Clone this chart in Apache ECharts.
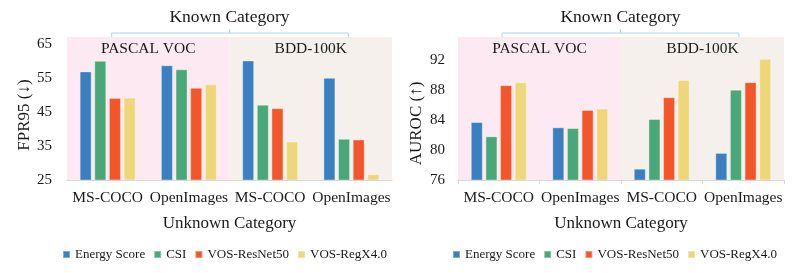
<!DOCTYPE html>
<html><head><meta charset="utf-8">
<script src="https://cdn.jsdelivr.net/npm/echarts@6/dist/echarts.min.js"></script>
<style>html,body{margin:0;padding:0;background:#fff}#c{width:797px;height:273px}</style>
</head><body><div id="c"></div>
<script>
// ---- data ----
const categories = ['MS-COCO', 'OpenImages', 'MS-COCO', 'OpenImages'];
const knownGroups = ['PASCAL VOC', 'BDD-100K'];
const seriesNames = ['Energy Score', 'CSI', 'VOS-ResNet50', 'VOS-RegX4.0'];

const fprEnergy = [56.9, 58.7, 60.1, 55.0];
const fprCSI    = [60.0, 57.5, 47.1, 37.1];
const fprResNet = [49.1, 52.1, 46.1, 36.9];
const fprRegX   = [49.2, 53.1, 36.3, 26.7];

const aucEnergy = [83.7, 83.0, 77.5, 79.6];
const aucCSI    = [81.8, 82.9, 84.1, 88.0];
const aucResNet = [88.6, 85.3, 87.0, 89.0];
const aucRegX   = [89.0, 85.5, 89.3, 92.1];

const fprAxis = {min: 25, max: 67, interval: 10};
const aucAxis = {min: 76, max: 95, interval: 4};

// ---- styles ----
const FONT = '"Liberation Serif", "Times New Roman", serif';
const colors = ['#3a80c0', '#48a878', '#f2562a', '#eed779'];
const bgColors = ['#fce9f1', '#f5f0eb'];
const TXT = '#1a1a1a';

const chart = echarts.init(document.getElementById('c'), null, {renderer: 'canvas'});

function bgSeries(idx, ax) {
  return {
    type: 'custom', xAxisIndex: idx * 2 + 1, yAxisIndex: idx, z: 1, silent: true,
    data: knownGroups.map((g, i) => [i, ax.max]),
    encode: {x: 0, y: 1},
    renderItem: function (params, api) {
      const x = api.value(0);
      const p0 = api.coord([x, ax.max]);
      const p1 = api.coord([x + 1, ax.min]);
      return {type: 'group', children: [
        {type: 'rect', shape: {x: p0[0], y: p0[1], width: p1[0] - p0[0], height: p1[1] - p0[1]},
         style: {fill: bgColors[params.dataIndex]}},
        {type: 'text', z2: 5, style: {text: knownGroups[params.dataIndex], x: (p0[0] + p1[0]) / 2, y: p0[1] + 12,
          align: 'center', verticalAlign: 'middle', fontFamily: FONT, fontSize: 15.5, fill: TXT}}
      ]};
    },
    markLine: {
      symbol: 'none', silent: true, label: {show: false},
      lineStyle: {type: [6, 3], color: '#8a8a8a', width: 1.6},
      data: [[{coord: [1, ax.max]}, {coord: [1, ax.min - (ax.max - ax.min) * 0.02]}]]
    }
  };
}

function barSeries(idx, arrs) {
  return arrs.map((arr, i) => ({
    name: seriesNames[i], type: 'bar', xAxisIndex: idx * 2, yAxisIndex: idx, z: 2,
    data: arr, barWidth: 12, barGap: '22%',
    itemStyle: {color: colors[i], borderColor: 'rgba(255,255,255,0.35)', borderWidth: 1}
  }));
}

function catAxis(grid, ticks) {
  return {
    type: 'category', gridIndex: grid, data: categories, z: 5,
    axisLine: {show: true, lineStyle: {color: '#d9d9d9', width: 1}},
    axisTick: {show: ticks, length: 4, lineStyle: {color: '#d9d9d9'}},
    axisLabel: {interval: 0, margin: 10, color: TXT, fontFamily: FONT, fontSize: 15.5},
    name: 'Unknown Category', nameLocation: 'middle', nameGap: 35,
    nameTextStyle: {color: TXT, fontFamily: FONT, fontSize: 17}
  };
}
function hiddenX(grid) {
  return {type: 'value', gridIndex: grid, min: 0, max: 2, show: false};
}
function valAxis(grid, ax, margin) {
  return {
    type: 'value', gridIndex: grid, min: ax.min, max: ax.max, interval: ax.interval,
    splitLine: {show: false}, axisLine: {show: false}, axisTick: {show: false},
    axisLabel: {showMaxLabel: false, margin: margin, color: TXT, fontFamily: FONT, fontSize: 15}
  };
}

function legend(left) {
  return {
    left: left, top: 248, padding: 0, itemWidth: 7, itemHeight: 7, itemGap: 8, icon: 'rect',
    data: seriesNames, selectedMode: false,
    textStyle: {color: TXT, fontFamily: FONT, fontSize: 13}
  };
}

function bracket(x0, x1, xc, label) {
  const st = {stroke: '#a6d6e8', lineWidth: 1, fill: null};
  return [
    {type: 'polyline', shape: {points: [[x0, 37], [x0, 33], [x1, 33], [x1, 37]]}, style: st},
    {type: 'line', shape: {x1: xc, y1: 33, x2: xc, y2: 29}, style: st},
    {type: 'text', style: {text: label, x: xc, y: 17, align: 'center', verticalAlign: 'middle',
      fontFamily: FONT, fontSize: 17.5, fill: TXT}}
  ];
}

const option = {
  animation: false,
  backgroundColor: '#fff',
  grid: [
    {left: 67, top: 37, width: 325, height: 143},
    {left: 458, top: 37, width: 326, height: 143}
  ],
  xAxis: [catAxis(0, false), hiddenX(0), catAxis(1, true), hiddenX(1)],
  yAxis: [valAxis(0, fprAxis, 15), valAxis(1, aucAxis, 13)],
  legend: [legend(62), legend(452)],
  series: [
    bgSeries(0, fprAxis),
    ...barSeries(0, [fprEnergy, fprCSI, fprResNet, fprRegX]),
    bgSeries(1, aucAxis),
    ...barSeries(1, [aucEnergy, aucCSI, aucResNet, aucRegX])
  ],
  graphic: [
    ...bracket(111.7, 348.3, 229.5, 'Known Category'),
    ...bracket(502, 739, 620.5, 'Known Category'),
    {type: 'text', x: 25, y: 115, rotation: Math.PI / 2,
     style: {text: 'FPR95 (↓)', x: 0, y: 0, align: 'center', verticalAlign: 'middle', fontFamily: FONT, fontSize: 17, fill: TXT}},
    {type: 'text', x: 417, y: 123.5, rotation: Math.PI / 2,
     style: {text: 'AUROC (↑)', x: 0, y: 0, align: 'center', verticalAlign: 'middle', fontFamily: FONT, fontSize: 17, fill: TXT}}
  ]
};
chart.setOption(option);
</script>
</body></html>
